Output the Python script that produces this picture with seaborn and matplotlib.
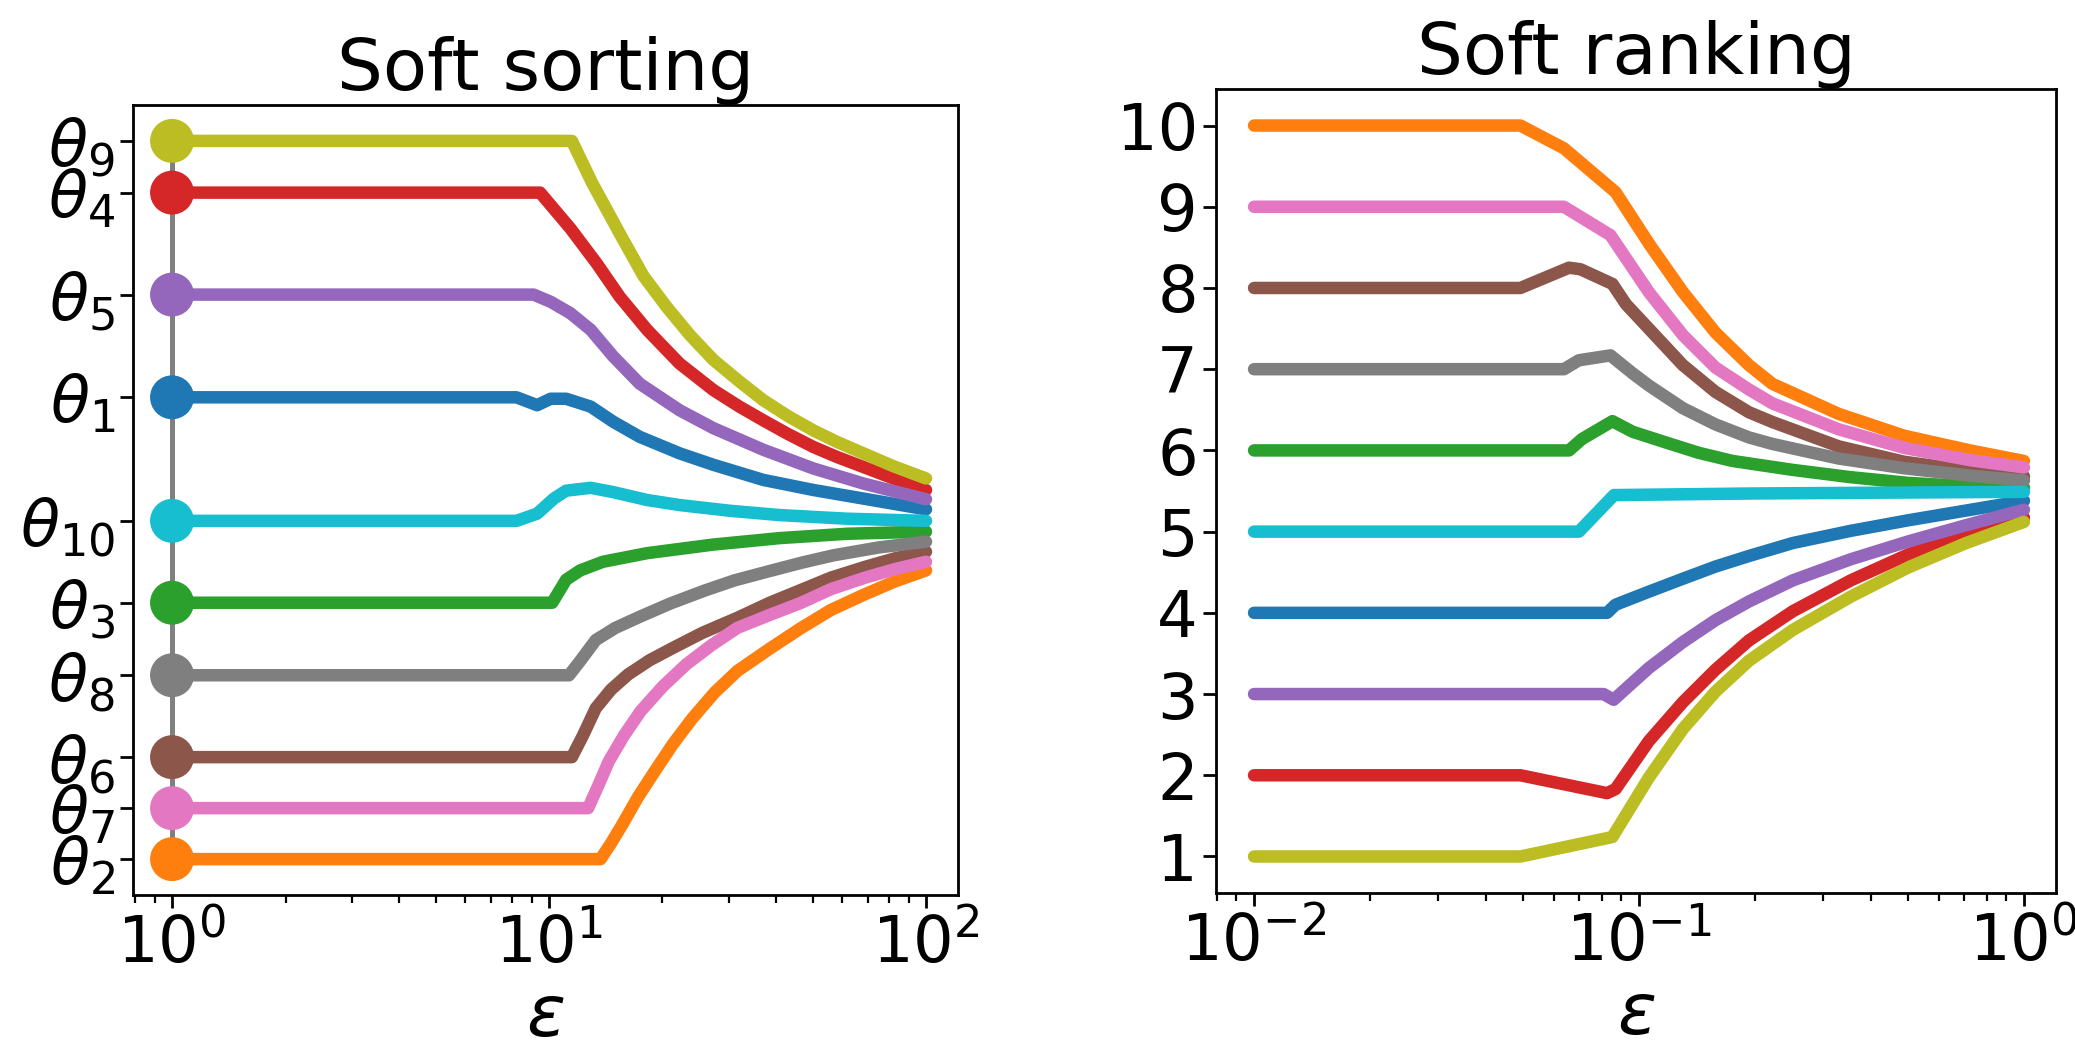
import numpy as np
import pandas as pd
import matplotlib
matplotlib.use("Agg")
import matplotlib.pyplot as plt
import seaborn as sns

sns.set_style("ticks")
plt.rcParams["font.family"] = ["DejaVu Sans"]
plt.rcParams["mathtext.fontset"] = "dejavusans"
for key in ("text.color", "axes.labelcolor", "xtick.color", "ytick.color", "axes.edgecolor"):
    plt.rcParams[key] = "black"

# ---------------------------------------------------------------
# Data: soft sorting / soft ranking paths of 10 values theta_1..theta_10
# ---------------------------------------------------------------
theta_ids = [1, 2, 3, 4, 5, 6, 7, 8, 9, 10]
theta_vals = [0.643, 0.0, 0.357, 0.928, 0.786, 0.142, 0.071, 0.256, 1.0, 0.471]
palette = ["#1f77b4", "#ff7f0e", "#2ca02c", "#d62728", "#9467bd",
           "#8c564b", "#e377c2", "#7f7f7f", "#bcbd22", "#17becf"]

# soft sorting: epsilon, sorted value for each theta path
sort_eps = {
    9: [1, 11.5, 13.0, 15.4, 17.8, 20.5, 23.7, 27.3, 32.0, 37.0, 43.0, 50.2, 58.0, 68.2, 82.0, 100],
    4: [1, 9.47, 11.4, 13.4, 15.4, 18.2, 22.2, 27.3, 32.0, 37.0, 43.0, 50.2, 58.0, 68.2, 82.0, 100],
    5: [1, 9.1, 10.1, 11.4, 12.9, 14.8, 17.4, 22.2, 27.3, 37.0, 50.2, 68.2, 100],
    1: [1, 8.2, 9.3, 10.1, 11.1, 12.9, 14.8, 17.4, 22.2, 27.3, 37.0, 50.2, 68.2, 100],
    10: [1, 8.2, 9.3, 10.3, 11.1, 12.9, 14.8, 18.2, 22.2, 30.2, 41.0, 61.7, 100],
    3: [1, 10.2, 11.1, 12.1, 13.9, 18.2, 27.3, 41.0, 61.7, 100],
    8: [1, 11.3, 12.1, 13.3, 15.0, 17.5, 21.0, 25.9, 31.0, 38.4, 47.0, 56.8, 75.0, 100],
    6: [1, 11.5, 12.3, 13.3, 14.6, 16.2, 18.5, 21.3, 25.5, 31.6, 38.5, 46.7, 56.0, 69.0, 83.0, 100],
    7: [1, 12.7, 13.5, 14.4, 15.8, 17.5, 20.0, 23.1, 27.0, 31.6, 38.5, 46.7, 56.0, 69.0, 83.0, 100],
    2: [1, 13.7, 14.6, 15.6, 17.2, 19.0, 21.3, 24.0, 27.5, 31.6, 38.5, 46.7, 56.0, 69.0, 83.0, 100],
}
sort_val = {
    9: [1.0, 1.0, 0.942, 0.871, 0.812, 0.769, 0.729, 0.695, 0.665, 0.639, 0.617, 0.597, 0.581, 0.565, 0.547, 0.530],
    4: [0.928, 0.928, 0.878, 0.829, 0.783, 0.737, 0.690, 0.653, 0.630, 0.611, 0.592, 0.574, 0.560, 0.546, 0.530, 0.514],
    5: [0.786, 0.786, 0.776, 0.760, 0.737, 0.700, 0.662, 0.625, 0.600, 0.570, 0.544, 0.523, 0.501],
    1: [0.643, 0.643, 0.632, 0.641, 0.641, 0.630, 0.609, 0.588, 0.565, 0.549, 0.528, 0.514, 0.502, 0.487],
    10: [0.471, 0.471, 0.481, 0.502, 0.513, 0.517, 0.511, 0.500, 0.493, 0.485, 0.479, 0.474, 0.471],
    3: [0.357, 0.357, 0.389, 0.402, 0.414, 0.426, 0.438, 0.447, 0.453, 0.456],
    8: [0.256, 0.256, 0.276, 0.305, 0.322, 0.338, 0.356, 0.374, 0.388, 0.401, 0.413, 0.423, 0.434, 0.442],
    6: [0.142, 0.142, 0.172, 0.210, 0.236, 0.257, 0.277, 0.294, 0.315, 0.336, 0.357, 0.375, 0.392, 0.407, 0.419, 0.428],
    7: [0.071, 0.071, 0.102, 0.136, 0.172, 0.206, 0.240, 0.271, 0.298, 0.322, 0.340, 0.357, 0.376, 0.392, 0.404, 0.414],
    2: [0.0, 0.0, 0.022, 0.047, 0.086, 0.121, 0.160, 0.196, 0.232, 0.262, 0.293, 0.322, 0.347, 0.369, 0.387, 0.402],
}

# soft ranking: epsilon, rank for each theta path
rank_eps = {
    2: [0.01, 0.0492, 0.0638, 0.0869, 0.106, 0.130, 0.158, 0.193, 0.222, 0.330, 0.489, 0.724, 1.0],
    7: [0.01, 0.0638, 0.0843, 0.106, 0.130, 0.158, 0.193, 0.222, 0.330, 0.489, 0.724, 1.0],
    6: [0.01, 0.0492, 0.0658, 0.0705, 0.0853, 0.0925, 0.106, 0.130, 0.158, 0.193, 0.222, 0.330, 0.489, 0.724, 1.0],
    8: [0.01, 0.0638, 0.0698, 0.0843, 0.0962, 0.106, 0.130, 0.158, 0.193, 0.222, 0.330, 0.489, 0.724, 1.0],
    3: [0.01, 0.0658, 0.0711, 0.0853, 0.0962, 0.117, 0.143, 0.175, 0.251, 0.355, 0.501, 0.708, 1.0],
    10: [0.01, 0.0698, 0.0861, 0.2, 1.0],
    1: [0.01, 0.0826, 0.0869, 0.106, 0.130, 0.158, 0.193, 0.251, 0.355, 0.501, 0.708, 1.0],
    5: [0.01, 0.0809, 0.0859, 0.106, 0.130, 0.158, 0.193, 0.251, 0.355, 0.501, 0.708, 1.0],
    4: [0.01, 0.0492, 0.0826, 0.0869, 0.106, 0.130, 0.158, 0.193, 0.251, 0.355, 0.501, 0.708, 1.0],
    9: [0.01, 0.0492, 0.0853, 0.106, 0.130, 0.158, 0.193, 0.251, 0.355, 0.501, 0.708, 1.0],
}
rank_val = {
    2: [10, 10, 9.72, 9.18, 8.55, 7.95, 7.45, 7.05, 6.82, 6.45, 6.18, 6.00, 5.87],
    7: [9, 9, 8.65, 7.95, 7.42, 7.02, 6.75, 6.58, 6.26, 6.03, 5.88, 5.79],
    6: [8, 8, 8.25, 8.23, 8.05, 7.80, 7.50, 7.05, 6.72, 6.47, 6.35, 6.05, 5.86, 5.75, 5.68],
    8: [7, 7, 7.11, 7.17, 6.95, 6.80, 6.52, 6.32, 6.16, 6.08, 5.90, 5.78, 5.69, 5.63],
    3: [6, 6, 6.14, 6.36, 6.23, 6.10, 5.97, 5.87, 5.76, 5.67, 5.60, 5.56, 5.54],
    10: [5, 5, 5.45, 5.47, 5.49],
    1: [4, 4, 4.10, 4.26, 4.42, 4.57, 4.70, 4.86, 5.01, 5.14, 5.26, 5.38],
    5: [3, 3, 2.93, 3.32, 3.64, 3.91, 4.14, 4.40, 4.66, 4.88, 5.08, 5.27],
    4: [2, 2, 1.78, 1.83, 2.42, 2.90, 3.30, 3.66, 4.02, 4.40, 4.72, 4.97, 5.17],
    9: [1, 1, 1.24, 1.97, 2.57, 3.03, 3.41, 3.79, 4.20, 4.56, 4.86, 5.12],
}
rank_ticks = [1, 2, 3, 4, 5, 6, 7, 8, 9, 10]


def long_table(eps, val):
    rows = []
    for k in theta_ids:
        for e, v in zip(eps[k], val[k]):
            rows.append({"eps": e, "value": v, "theta": k})
    return pd.DataFrame(rows)


colors = dict(zip(theta_ids, palette))
LW = 9.0
TICK_FS = 46
TITLE_FS = 52

fig = plt.figure(figsize=(20.75, 10.52), dpi=100)
ax1 = fig.add_axes([0.0641, 0.1492, 0.3976, 0.7510])
ax2 = fig.add_axes([0.5860, 0.1511, 0.4048, 0.7643])

for ax in (ax1, ax2):
    ax.set_xscale("log")

# ---- Soft sorting ----
df_sort = long_table(sort_eps, sort_val)
sns.lineplot(data=df_sort, x="eps", y="value", hue="theta", hue_order=theta_ids,
             palette=colors, lw=LW, legend=False, estimator=None, sort=True, ax=ax1)

# vertical gray segment through the original values at eps=1
ax1.plot([1, 1], [min(theta_vals), max(theta_vals)], color="#808080", lw=3.6, zorder=3)
df_pts = pd.DataFrame({"eps": [1] * len(theta_ids), "value": theta_vals, "theta": theta_ids})
sns.scatterplot(data=df_pts, x="eps", y="value", hue="theta", hue_order=theta_ids,
                palette=colors, s=1000, linewidth=0, legend=False, zorder=4, ax=ax1)

ax1.set_xlim(0.788, 121.6)
ax1.set_yticks(theta_vals)
ax1.set_yticklabels([rf"$\theta_{{{i}}}$" for i in theta_ids])
ax1.set_title("Soft sorting", fontsize=TITLE_FS, pad=9)
ax1.set_xlabel(r"$\varepsilon$", fontsize=TITLE_FS)
ax1.set_ylabel("")

# ---- Soft ranking ----
df_rank = long_table(rank_eps, rank_val)
sns.lineplot(data=df_rank, x="eps", y="value", hue="theta", hue_order=theta_ids,
             palette=colors, lw=LW, legend=False, estimator=None, sort=True, ax=ax2)
ax2.set_xlim(10 ** (-2.099), 10 ** 0.083)
ax2.set_yticks(rank_ticks)
ax2.set_yticklabels([str(t) for t in rank_ticks])
ax2.set_title("Soft ranking", fontsize=TITLE_FS, pad=9)
ax2.set_xlabel(r"$\varepsilon$", fontsize=TITLE_FS)
ax2.set_ylabel("")

for ax in (ax1, ax2):
    ax.tick_params(axis="both", which="major", labelsize=TICK_FS, length=9.5, width=2.0)
    ax.tick_params(axis="both", which="minor", length=5.4, width=1.6)
    for sp in ax.spines.values():
        sp.set_linewidth(2.0)
        sp.set_visible(True)

fig.savefig("out.png", dpi=100)
